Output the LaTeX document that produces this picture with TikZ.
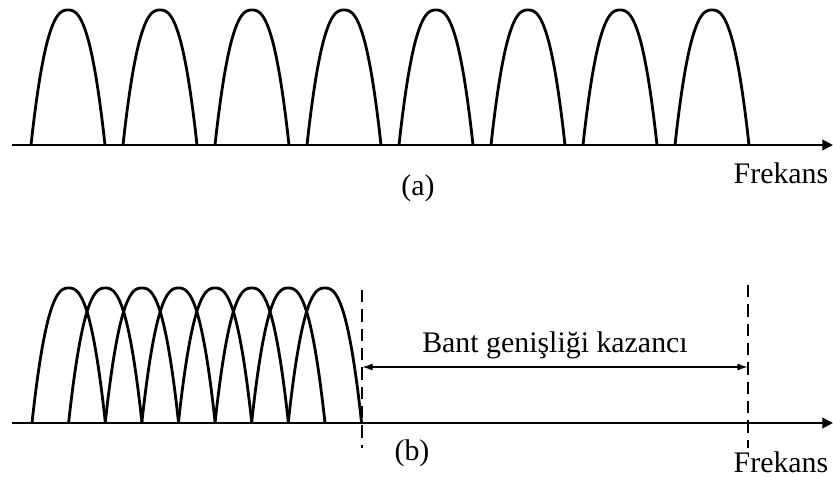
\documentclass[tikz,border=0pt]{standalone}
\usepackage{fontspec}
\setmainfont{Liberation Serif}
\usetikzlibrary{arrows.meta}

\tikzset{
  arch/.style={line width=1.6pt, line join=round},
  axisline/.style={line width=1.1pt, -{Stealth[length=6pt,width=6pt,inset=0pt]}},
  guide/.style={line width=0.8pt, dash pattern=on 7pt off 4pt},
  span/.style={line width=0.9pt, {Latex[length=6pt,width=4pt]}-{Latex[length=6pt,width=4pt]}},
  lbl/.style={font=\fontsize{17}{20}\selectfont, inner sep=0pt},
}

\begin{document}
\begin{tikzpicture}[x=0.02cm, y=-0.02cm]
  \useasboundingbox (0,0) rectangle (833,477);

  % (a) separate carriers
  \coordinate (axa0) at (12,145);
  \coordinate (axa1) at (833,145);
  \draw[axisline] (axa0) -- (axa1);
  \foreach \c in {68,160,...,712}
    \draw[arch] plot[domain=-1:1, samples=60, smooth]
      ({\c+37*\x}, {145-135*(1-abs(\x)^2.5)});
  \node[lbl] (capa) at (418,188) {(a)};
  \node[lbl] (frqa) at (781,173) {Frekans};

  % (b) overlapping carriers
  \coordinate (axb0) at (12,423);
  \coordinate (axb1) at (833,423);
  \draw[axisline] (axb0) -- (axb1);
  \foreach \i in {0,...,7}
    \draw[arch] plot[domain=-1:1, samples=60, smooth]
      ({68.7+36.6*\i+36.7*\x}, {423-135*(1-abs(\x)^2.5)});

  \coordinate (gltop) at (362,290);
  \coordinate (glbot) at (362,448);
  \coordinate (grtop) at (748,285);
  \coordinate (grbot) at (748,448);
  \draw[guide] (gltop) -- (glbot);
  \draw[guide] (grtop) -- (grbot);

  \coordinate (spl) at (362,367);
  \coordinate (spr) at (748,367);
  \draw[span] (spl) -- (spr);
  \node[lbl] (gain) at (555,345) {Bant genişliği kazancı};
  \node[lbl] (capb) at (412,453) {(b)};
  \node[lbl] (frqb) at (781,462) {Frekans};
\end{tikzpicture}
\end{document}
